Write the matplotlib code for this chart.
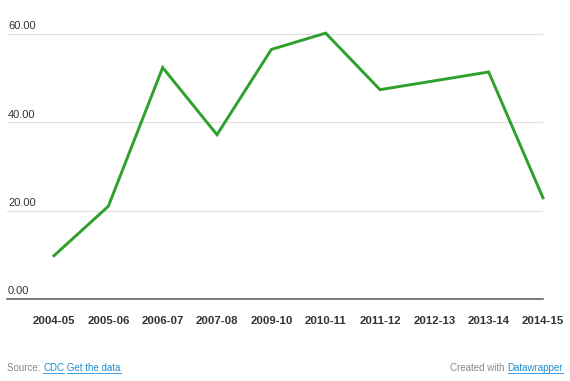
import matplotlib
matplotlib.use("Agg")
import matplotlib.pyplot as plt
import matplotlib.transforms as mtransforms

plt.rcParams['font.family'] = ['Liberation Sans', 'DejaVu Sans']

seasons = ["2004-05", "2005-06", "2006-07", "2007-08", "2009-10",
           "2010-11", "2011-12", "2012-13", "2013-14", "2014-15"]
values = [9.8, 21.0, 52.4, 37.2, 56.5, 60.2, 47.4, 49.4, 51.4, 22.9]
y_ticks = [0, 20, 40, 60]

line_color = '#2ea02b'
text_color = '#333333'
link_color = '#1d8fd0'

W, H = 570, 381
fig = plt.figure(figsize=(W / 100, H / 100), dpi=100)
# axes box in pixels: left 7, right 543, top 25, bottom 299
ax = fig.add_axes([7 / W, (H - 299) / H, (543 - 7) / W, (299 - 25) / H])

x = list(range(len(seasons)))
ax.plot(x, values, color=line_color, lw=2.1, solid_joinstyle='miter',
        clip_on=False, zorder=3)

ax.set_xlim(-0.865, len(seasons) - 1)
ax.set_ylim(0, 62.04)

for s in ax.spines.values():
    s.set_visible(False)

for t in y_ticks[1:]:
    ax.axhline(t, color='#e0e0e0', lw=0.9, zorder=1)
ax.axhline(0, color='#555555', lw=1.1, zorder=2, clip_on=False)

ax.set_yticks([])
trans = mtransforms.blended_transform_factory(ax.transAxes, ax.transData)
for t in y_ticks:
    off = mtransforms.offset_copy(trans, fig=fig, x=0, y=3.4, units='points')
    ax.text(0.002, t, f"{t:.2f}", transform=off, ha='left', va='baseline',
            fontsize=8, color=text_color)

ax.set_xticks(x)
ax.set_xticklabels(seasons, fontsize=8.2, fontweight='bold', color=text_color)
ax.tick_params(axis='x', length=0, pad=12)

# footer with link-like pieces
fig.canvas.draw()
renderer = fig.canvas.get_renderer()


def footer(pieces, x0, y0, ha='left'):
    arts = []
    for txt, col in pieces:
        arts.append(fig.text(0, y0 / H, txt, fontsize=7, color=col, va='baseline'))
    widths = [a.get_window_extent(renderer).width for a in arts]
    total = sum(widths)
    cur = x0 if ha == 'left' else x0 - total
    for a, w, (txt, col) in zip(arts, widths, pieces):
        a.set_x(cur / W)
        if col == link_color and txt.strip():
            pad = 0
            if txt.startswith(' '):
                sp = fig.text(0, 0, ' ', fontsize=7)
                pad = sp.get_window_extent(renderer).width
                sp.remove()
            fig.add_artist(plt.Line2D([(cur + pad) / W, (cur + w) / W],
                                      [(y0 - 2) / H, (y0 - 2) / H],
                                      color=link_color, lw=0.6))
        cur += w


footer([("Source: ", '#888888'), ("CDC", link_color), (" Get the data", link_color)],
       7, H - 371)
footer([("Created with ", '#888888'), ("Datawrapper", link_color)], 563, H - 371, ha='right')

fig.savefig('out.png', dpi=100)
